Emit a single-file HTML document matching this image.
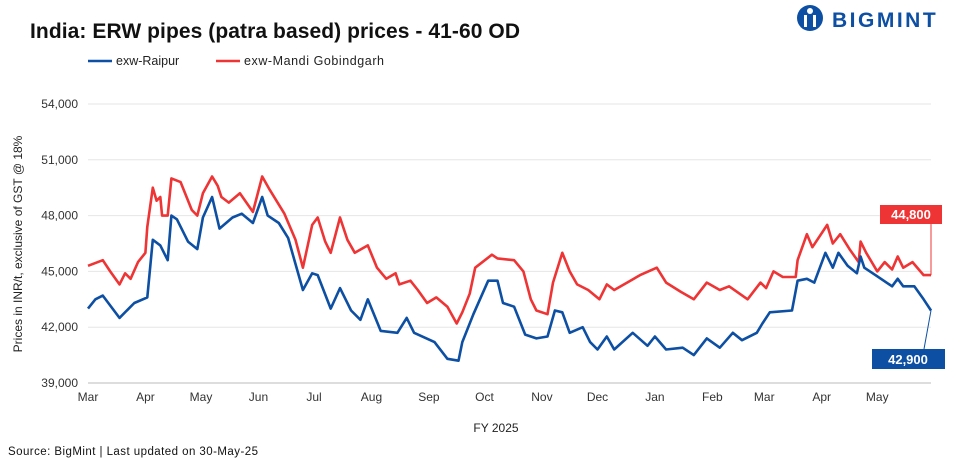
<!DOCTYPE html>
<html><head><meta charset="utf-8"><style>
body{margin:0;background:#fff;font-family:"Liberation Sans",sans-serif}
#wrap{position:relative;width:960px;height:460px;overflow:hidden}
</style></head><body>
<div id="wrap">
<svg id="chart" width="960" height="460" xmlns="http://www.w3.org/2000/svg">
<text x="30" y="38" font-size="21" font-weight="bold" fill="#111" font-family="Liberation Sans" textLength="490">India: ERW pipes (patra based) prices - 41-60 OD</text>
<g>
<circle cx="810" cy="18" r="13" fill="#0d4fa3"/>
<circle cx="810" cy="11" r="3" fill="#fff"/>
<rect x="804" y="15" width="3" height="12" fill="#fff"/><rect x="813" y="15" width="3" height="12" fill="#fff"/>
<text x="832" y="27" font-size="21" font-weight="bold" fill="#0d4fa3" letter-spacing="2.5" font-family="Liberation Sans">BIGMINT</text>
</g>
<g>
<line x1="88" y1="61" x2="112" y2="61" stroke="#0d4fa3" stroke-width="2.5"/>
<text x="116" y="65" font-size="12.5" fill="#222">exw-Raipur</text>
<line x1="216" y1="61" x2="240" y2="61" stroke="#ee3434" stroke-width="2.5"/>
<text x="244" y="65" font-size="12.5" fill="#222" textLength="140">exw-Mandi Gobindgarh</text>
</g>
<text transform="translate(22,244) rotate(-90)" text-anchor="middle" font-size="12" fill="#222">Prices in INR/t, exclusive of GST @ 18%</text>
<text x="496" y="432" text-anchor="middle" font-size="12" fill="#222">FY 2025</text>
<text x="8" y="455" font-size="11.5" fill="#111" textLength="250">Source: BigMint  | Last updated on 30-May-25</text>
<g id="grid"></g><g id="xt"></g><g id="lines"></g><g id="callouts"></g>
</svg>
</div>
<script>
const yTicks=[39000,42000,45000,48000,51000,54000];
const monthLabels=["Mar","Apr","May","Jun","Jul","Aug","Sep","Oct","Nov","Dec","Jan","Feb","Mar","Apr","May"];
const monthStartDays=[0,31,61,92,122,153,184,214,245,275,306,337,365,396,426];
const raipurDays=[0,4,8,17,25,32,35,39,43,45,48,54,59,62,67,71,78,83,89,94,97,103,108,112,116,121,124,131,136,142,147,151,158,167,172,176,187,194,200,202,208,216,221,224,230,236,242,248,252,256,260,267,271,275,280,284,294,302,306,312,321,327,334,341,348,353,361,364,368,380,383,388,392,398,402,405,410,415,417,419,425,434,437,440,446,451,455];
const raipurVals=[43.0,43.5,43.7,42.5,43.3,43.6,46.7,46.4,45.6,48.0,47.8,46.6,46.2,47.9,49.0,47.3,47.9,48.1,47.6,49.0,48.0,47.6,46.8,45.4,44.0,44.9,44.8,43.0,44.1,42.9,42.4,43.5,41.8,41.7,42.5,41.7,41.2,40.3,40.2,41.2,42.7,44.5,44.5,43.3,43.1,41.6,41.4,41.5,42.9,42.8,41.7,42.0,41.2,40.8,41.5,40.8,41.7,41.0,41.5,40.8,40.9,40.5,41.4,40.9,41.7,41.3,41.7,42.2,42.8,42.9,44.5,44.6,44.4,46.0,45.2,46.0,45.3,44.9,45.8,45.2,44.8,44.2,44.6,44.2,44.2,43.5,42.9];
const mandiDays=[0,8,12,17,20,23,27,31,32,35,37,39,40,43,45,50,56,59,62,67,70,72,76,82,89,94,98,106,112,116,121,124,128,131,136,140,144,151,156,161,166,168,174,178,183,188,194,199,202,206,209,218,221,230,235,239,242,248,251,256,260,264,270,276,280,284,291,298,307,312,320,327,334,341,346,356,363,366,370,375,382,383,388,391,399,402,406,411,416,417,420,426,430,434,437,440,445,451,455];
const mandiVals=[45.3,45.6,45.0,44.3,44.9,44.6,45.5,46.0,47.4,49.5,48.8,49.0,48.0,48.0,50.0,49.8,48.3,48.0,49.2,50.1,49.6,49.0,48.7,49.2,48.2,50.1,49.4,48.1,46.7,45.2,47.5,47.9,46.6,46.0,47.9,46.7,46.0,46.4,45.2,44.6,44.9,44.3,44.5,44.0,43.3,43.6,43.1,42.2,42.8,43.8,45.2,45.9,45.7,45.6,45.0,43.5,42.9,42.7,44.4,46.0,45.0,44.3,44.0,43.5,44.3,44.0,44.4,44.8,45.2,44.4,43.9,43.5,44.4,44.0,44.2,43.5,44.4,44.1,45.0,44.7,44.7,45.6,47.0,46.3,47.5,46.5,47.0,46.2,45.5,46.6,46.0,45.0,45.5,45.1,45.8,45.2,45.5,44.8,44.8];
const lastLabels=["44,800","42,900"];

const NS="http://www.w3.org/2000/svg";
const X0=88,X1=931,DMAX=455,Y0=383,Y1=104,VMIN=39000,VMAX=54000;
const xs=d=>X0+(d/DMAX)*(X1-X0);
const ys=v=>Y0-(v-VMIN)/(VMAX-VMIN)*(Y0-Y1);
function mk(tag,attrs,parent){const e=document.createElementNS(NS,tag);for(const k in attrs)e.setAttribute(k,attrs[k]);parent.appendChild(e);return e;}
const grid=document.getElementById('grid');
yTicks.forEach(t=>{
  const ln=mk('line',{x1:X0,x2:X1,y1:ys(t),y2:ys(t),stroke:t===VMIN?'#bbb':'#e6e6e6','stroke-width':1},grid);
  
  
  const tx=mk('text',{x:78,y:ys(t)+4,'text-anchor':'end','font-size':12,fill:'#333'},grid);
  tx.textContent=t.toLocaleString('en-US');
  
  
});
const xt=document.getElementById('xt');
monthLabels.forEach((m,i)=>{
  const tx=mk('text',{x:xs(monthStartDays[i]),y:401,'text-anchor':'middle','font-size':12,fill:'#333'},xt);
  tx.textContent=m;
  
  
});
const lines=document.getElementById('lines');
function series(days,vals,color,name){
  const d=days.map((dd,i)=>(i?'L':'M')+xs(dd).toFixed(1)+' '+ys(vals[i]*1000).toFixed(1)).join(' ');
  const p=mk('path',{d:d,fill:'none',stroke:color,'stroke-width':2.6,'stroke-linejoin':'round'},lines);
  
  
}
series(mandiDays,mandiVals,'#ee3434','line-mandi-gobindgarh');
series(raipurDays,raipurVals,'#0d4fa3','line-raipur');
const co=document.getElementById('callouts');
const rx=xs(mandiDays[mandiDays.length-1]),ry=ys(mandiVals[mandiVals.length-1]*1000);
mk('line',{x1:rx,y1:ry,x2:rx,y2:224,stroke:'#ee3434','stroke-width':1},co);
const rb=mk('rect',{x:880,y:205,width:62,height:19,fill:'#ee3434'},co);


const rt=mk('text',{x:911,y:219,'text-anchor':'middle','font-size':13,'font-weight':'bold',fill:'#fff'},co);
rt.textContent=lastLabels[0];


const bx=xs(raipurDays[raipurDays.length-1]),by=ys(raipurVals[raipurVals.length-1]*1000);
mk('line',{x1:bx,y1:by,x2:924,y2:349,stroke:'#0d4fa3','stroke-width':1},co);
const bb=mk('rect',{x:872,y:349,width:73,height:20,fill:'#0d4fa3'},co);


const bt=mk('text',{x:908,y:364,'text-anchor':'middle','font-size':13,'font-weight':'bold',fill:'#fff'},co);
bt.textContent=lastLabels[1];


</script>
</body></html>
